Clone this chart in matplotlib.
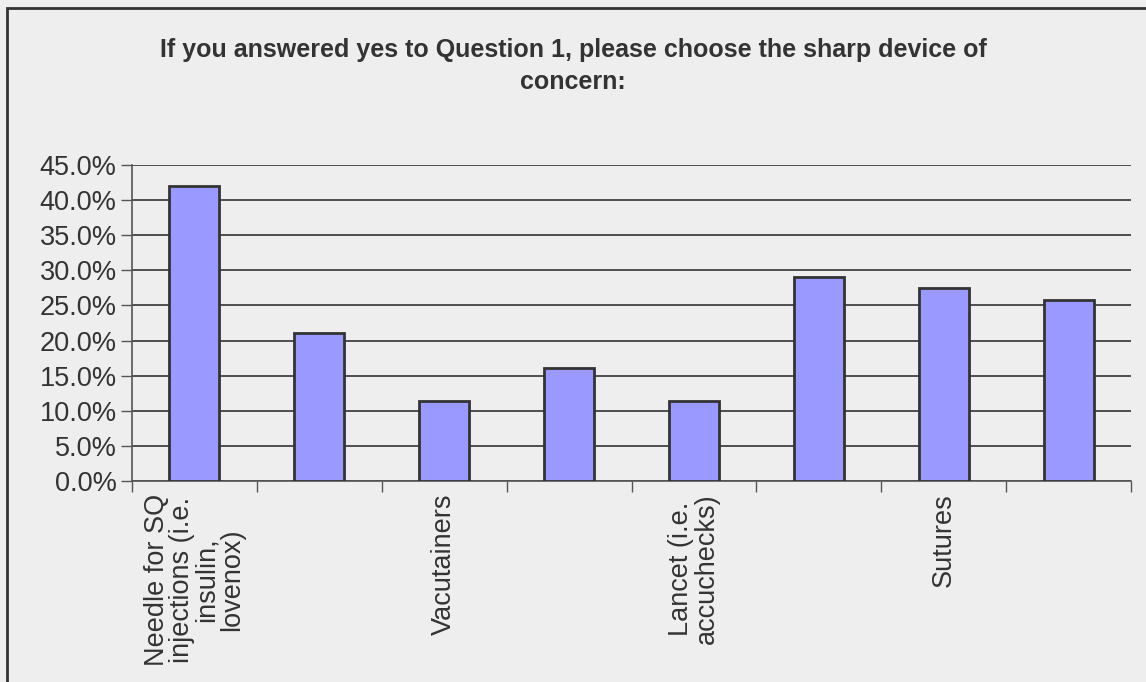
import matplotlib.pyplot as plt
from matplotlib.patches import Rectangle
from matplotlib.ticker import FuncFormatter, MultipleLocator
import numpy as np

# survey responses, share of respondents per device
categories = [
    "Needle for SQ\ninjections (i.e.\ninsulin,\nlovenox)",
    "",
    "Vacutainers",
    "",
    "Lancet (i.e.\naccuchecks)",
    "",
    "Sutures",
    "",
]
values = [42.0, 21.1, 11.4, 16.1, 11.4, 29.0, 27.5, 25.8]

title = "If you answered yes to Question 1, please choose the sharp device of\nconcern:"

bg = "#eeeeee"
plt.rcParams["font.family"] = ["Liberation Sans", "DejaVu Sans"]

fig = plt.figure(figsize=(11.46, 6.82), dpi=100, facecolor=bg)
ax = fig.add_axes([132 / 1146, 1 - 481 / 682, (1131 - 132) / 1146, (481 - 165) / 682])
ax.set_facecolor(bg)

x = np.arange(len(values))
ax.bar(x, values, width=0.4, color="#9999ff", edgecolor="#333333", linewidth=2, zorder=3)

ax.set_xlim(-0.5, len(values) - 0.5)
ax.set_ylim(0, 45)
ax.yaxis.set_major_locator(MultipleLocator(5))
ax.yaxis.set_major_formatter(FuncFormatter(lambda v, p: f"{v:.1f}%"))
ax.grid(axis="y", color="#333333", linewidth=1.2, zorder=0)

# ticks sit on the category boundaries, labels at the bar centres
ax.set_xticks(np.arange(len(values) + 1) - 0.5)
ax.set_xticklabels([])
ax.tick_params(axis="x", which="major", length=8, width=1, color="#555555")
ax.set_xticks(x, minor=True)
ax.set_xticklabels(categories, minor=True, rotation=90, va="top", ha="center",
                   multialignment="center", fontsize=19.5, color="#333333", linespacing=0.95)
ax.tick_params(axis="x", which="minor", length=0, pad=9)
ax.tick_params(axis="y", length=8, width=1, color="#555555", labelsize=19.5,
               labelcolor="#333333", pad=3)

for s in ["top", "right"]:
    ax.spines[s].set_visible(False)
for s in ["left", "bottom"]:
    ax.spines[s].set_color("#555555")
    ax.spines[s].set_linewidth(1.2)

fig.text(0.5, 1 - 66 / 682, title, ha="center", va="center", fontsize=18,
         fontweight="bold", color="#333333", linespacing=1.45,
         family=["Liberation Sans Narrow", "Liberation Sans", "DejaVu Sans"])

fig.patches.append(Rectangle((6.5 / 1146, -0.1), 1.2, 1 - 7.5 / 682 + 0.1,
                             transform=fig.transFigure, fill=False,
                             edgecolor="#333333", linewidth=2))

fig.savefig("out.png", dpi=100, facecolor=bg)
